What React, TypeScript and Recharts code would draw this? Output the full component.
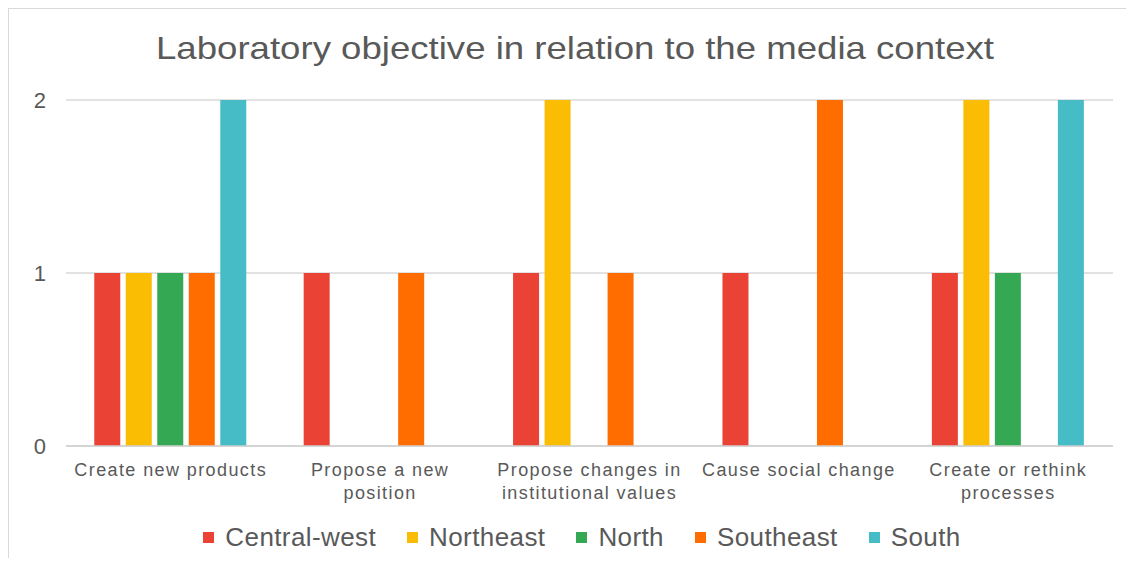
import React from 'react';
import { BarChart, Bar, XAxis, YAxis, CartesianGrid, Legend } from 'recharts';

const categories = [
  'Create new products',
  'Propose a new position',
  'Propose changes in institutional values',
  'Cause social change',
  'Create or rethink processes',
];

const centralWest = [1, 1, 1, 1, 1];
const northeast = [1, 0, 2, 0, 2];
const north = [1, 0, 0, 0, 1];
const southeast = [1, 1, 1, 2, 0];
const south = [2, 0, 0, 0, 2];

const yTicks = [0, 1, 2];

const series = [
  { key: 'centralWest', name: 'Central-west', color: '#EA4335', values: centralWest },
  { key: 'northeast', name: 'Northeast', color: '#FBBC04', values: northeast },
  { key: 'north', name: 'North', color: '#34A853', values: north },
  { key: 'southeast', name: 'Southeast', color: '#FF6D01', values: southeast },
  { key: 'south', name: 'South', color: '#46BDC6', values: south },
];

const data = categories.map((name, i) => {
  const row: Record<string, any> = { name };
  series.forEach(s => { row[s.key] = s.values[i]; });
  return row;
});

const TEXT = '#595959';
const FONT = '"Liberation Sans", Arial, sans-serif';

// wraps labels at about 20 characters, like the original
const wrap = (label: string, max = 20) => {
  const lines: string[] = [];
  let cur = '';
  label.split(' ').forEach(w => {
    const next = cur ? `${cur} ${w}` : w;
    if (next.length > max && cur) {
      lines.push(cur);
      cur = w;
    } else {
      cur = next;
    }
  });
  if (cur) lines.push(cur);
  return lines;
};

const CategoryTick = (props: any) => {
  const { x, y, payload } = props;
  const lines = wrap(String(payload.value));
  return (
    <g transform={`translate(${x},${y})`}>
      {lines.map((line, i) => (
        <text key={i} x={0} y={28 + i * 23} textAnchor="middle" fill={TEXT}
          fontSize={18} letterSpacing={1.4} fontFamily={FONT}>
          {line}
        </text>
      ))}
    </g>
  );
};

const LegendContent = () => (
  <div style={{ display: 'flex', justifyContent: 'center', alignItems: 'center', height: 30, paddingLeft: 72, fontFamily: FONT }}>
    {series.map(s => (
      <div key={s.key} style={{ display: 'flex', alignItems: 'center', marginRight: 31 }}>
        <span style={{ width: 11, height: 11, background: s.color, display: 'inline-block', marginRight: 11 }} />
        <span style={{ fontSize: 26, color: TEXT, letterSpacing: 0.4 }}>{s.name}</span>
      </div>
    ))}
  </div>
);

const App: React.FC = () => {
  return (
    <div style={{ position: 'relative', width: 1118, height: 550, background: '#fff' }}>
      <div style={{ position: 'absolute', inset: 0, borderTop: '1.5px solid #d9d9d9', borderLeft: '1.5px solid #d9d9d9', pointerEvents: 'none' }} />
      <svg width={1118} height={70} style={{ position: 'absolute', left: 0, top: 0 }}>
        <text x={567} y={51} textAnchor="middle" fill={TEXT} fontSize={32} fontFamily={FONT}
          textLength={838} lengthAdjust="spacingAndGlyphs">
          Laboratory objective in relation to the media context
        </text>
      </svg>
      <BarChart
        width={1118}
        height={550}
        data={data}
        margin={{ top: 92, right: 13, bottom: 6, left: 2 }}
        barCategoryGap="13.5%"
        barGap={5.5}
      >
        <CartesianGrid horizontal vertical={false} stroke="#d9d9d9" strokeWidth={1.5} />
        <XAxis dataKey="name" height={76} tick={<CategoryTick />} tickLine={false} tickSize={0}
          axisLine={{ stroke: '#d0d0d0', strokeWidth: 1.5 }} interval={0} />
        <YAxis width={56} domain={[0, 2]} ticks={yTicks} tickLine={false} axisLine={false}
          tickMargin={14} tick={{ fontSize: 22, fill: TEXT, fontFamily: FONT }} />
        <Legend verticalAlign="bottom" content={<LegendContent />} />
        {series.map(s => (
          <Bar key={s.key} dataKey={s.key} name={s.name} fill={s.color} isAnimationActive={false} />
        ))}
      </BarChart>
    </div>
  );
};

export default App;
